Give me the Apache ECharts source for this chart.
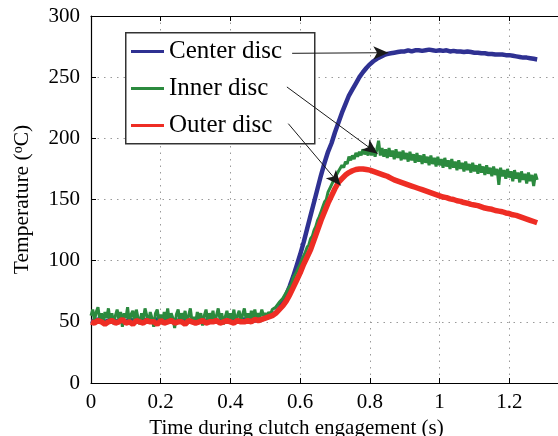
<!DOCTYPE html>
<html>
<head>
<meta charset="utf-8">
<script src="https://cdn.jsdelivr.net/npm/echarts@6/dist/echarts.min.js"></script>
<style>
html,body{margin:0;padding:0;background:#fff;overflow:hidden;}
#chart{width:558px;height:436px;}
</style>
</head>
<body>
<div id="chart"></div>
<script>
// Sample steps (s); every series starts at t = 0
const stepCenterOuter = 0.01;
const stepInner = 0.005;
const seriesNames = ['Center disc', 'Inner disc', 'Outer disc'];
const xTicks = [0, 0.2, 0.4, 0.6, 0.8, 1, 1.2];
const yTicks = [0, 50, 100, 150, 200, 250, 300];

// Center disc temperature (°C), t = 0.00 ... 1.28 (step 0.01)
const centerDisc = [
 51,50,52,51,50,51,52,50,51,51, 50,52,51,50,51,52,51,50,51,52,
 50,51,51,52,50,51,52,51,50,51, 52,51,50,51,52,51,51,50,52,51,
 51,52,50,51,52,51,52,51,52,52,
 53,54,55.5,57.5,61,66,72,79,87,96,
 105,115,126,137,148,159,170,180,189,196,
 205,213,221,228,235,240,245,250,254,257.5,
 260.5,263,265,266.5,268,269,269.5,270,270.5,271,
 271,272,271,272,272,271.5,272,272.5,272,271.5,
 272,271.5,272,271,271.5,271,271,270.5,271,270.5,
 270,270,269.5,269.5,269,269,268.5,268.5,268.5,268,
 268,267.5,267,266.5,266,266,265.5,265,264.5
];

// Inner disc temperature (°C), t = 0.000 ... 1.280 (step 0.005)
const innerDisc = [
 55,60,51,58,62,52,57,49,58,53, 61,50,57,48,55,60,52,58,46,57,
 53,62,50,56,59,49,60,53,48,57, 52,61,55,49,58,53,46,57,60,51,
 56,48,58,52,61,50,57,53,45,56, 60,51,57,52,59,48,55,61,50,54,
 49,58,52,57,47,55,60,51,57,52, 59,49,55,61,52,57,48,54,59,51,
 57,52,60,49,55,59,50,56,61,52, 57,50,59,53,60,52,57,54,60,55,
 57,55,58,56,60,59,62,61,66,65, 69,70,74,75,79,81,86,87,91,94,
 97,101,104,107,111,113,118,120,125,128, 133,136,140,144,148,150,156,157,162,163,
 168,168,173,172,178,176,181,179,185,182, 186,183,188,185,189,186,191,187,190,186,
 194,186,192,185,191,198,186,192,185,191, 184,192,185,190,183,191,184,189,182,190,
 183,188,181,189,182,187,180,188,181,186, 179,187,180,185,178,186,179,184,177,185,
 178,183,176,184,177,182,175,183,176,181, 174,182,175,180,173,181,174,179,172,180,
 173,178,171,179,172,177,170,178,171,176, 169,177,170,175,162,176,169,174,167,175,
 168,173,165,174,167,172,164,173,166,171, 163,172,165,170,161,171,166
];

// Outer disc temperature (°C), t = 0.00 ... 1.28 (step 0.01)
const outerDisc = [
 50,49,51,50,48,50,51,49,50,52, 49,50,48,51,50,49,51,50,50,48,
 51,49,50,51,49,50,50,48,51,50, 49,50,51,49,50,50,51,49,50,51,
 50,49,51,50,50,51,50,52,51,52,
 53,54,55,57,60,63,67,72,78,84,
 90,97,103,109,117,125,133,140,147,153,
 159,164,167,170,172,173.5,174.5,175,175,174.5,
 174,173,172,171,170,169,167.5,166,165,164,
 163,162,161,160,159,158,157,156,155,154,
 153,152,151.5,150.5,150,149,148.5,147.5,147,146,
 145.5,145,144,143,142.5,142,141,140.5,140,139,
 138.5,137.5,137,136,135,134,133,132,131
];

// Annotation arrows: [start point, arrow tip] in data coordinates
const arrowCenter = [[0.577, 269.5], [0.853, 270]];
const arrowInner  = [[0.562, 242], [0.822, 187.5]];
const arrowOuter  = [[0.566, 212], [0.716, 161.5]];

const colors = ['#2f3192', '#2b8a3e', '#ee2d24'];
const serif = '"Liberation Serif", "DejaVu Serif", serif';

function pairs(arr, step) {
  return arr.map((v, i) => [Math.round(i * step * 1000) / 1000, v]);
}
function arrowLine(a) {
  return {
    silent: true,
    symbol: ['none', 'arrow'],
    symbolSize: [10, 15],
    label: {show: false},
    lineStyle: {color: '#1a1a1a', width: 1, type: 'solid'},
    emphasis: {disabled: true},
    animation: false,
    data: [[{coord: a[0]}, {coord: a[1]}]]
  };
}

const chart = echarts.init(document.getElementById('chart'), null, {renderer: 'canvas'});
const gridDots = {show: true, lineStyle: {color: '#9a9a9a', type: [1.5, 5], width: 1}};
const option = {
  animation: false,
  color: colors,
  grid: {left: 91, top: 16, right: -21, bottom: 53, containLabel: false, outerBoundsMode: 'none'},
  graphic: [{
    type: 'rect', left: 125, top: 32, z: 1, silent: true,
    shape: {width: 189, height: 111},
    style: {fill: '#fff', stroke: '#333', lineWidth: 1.5}
  }],
  legend: {
    orient: 'vertical',
    left: 126, top: 33,
    z: 5,
    data: seriesNames,
    icon: 'rect',
    itemWidth: 33, itemHeight: 3,
    itemGap: 12,
    padding: [6, 3, 5, 5],
    borderWidth: 0,
    textStyle: {fontFamily: serif, fontSize: 25, color: '#000'},
    selectedMode: false
  },
  xAxis: [{
    type: 'value', min: 0, max: 1.4, interval: 0.2,
    axisLine: {show: true, onZero: false, lineStyle: {color: '#000', width: 1.2}},
    axisTick: {show: true, inside: true, length: 5, lineStyle: {color: '#000'}},
    axisLabel: {
      fontFamily: serif, fontSize: 21, color: '#000', margin: 9,
      formatter: v => (xTicks.some(t => Math.abs(t - v) < 1e-6) ? String(Math.round(v * 10) / 10) : '')
    },
    splitLine: gridDots,
    name: 'Time during clutch engagement (s)',
    nameLocation: 'middle', nameGap: 33,
    nameTextStyle: {fontFamily: serif, fontSize: 21, color: '#000', padding: [0, 77, 0, 0]}
  }, {
    type: 'value', min: 0, max: 1.4, interval: 0.2, position: 'top',
    axisLine: {show: true, onZero: false, lineStyle: {color: '#000', width: 1.2}},
    axisTick: {show: true, inside: true, length: 5, lineStyle: {color: '#000'}},
    axisLabel: {show: false}, splitLine: {show: false}
  }],
  yAxis: [{
    type: 'value', min: 0, max: 300, interval: 50,
    axisLine: {show: true, lineStyle: {color: '#000', width: 1.2}},
    axisTick: {show: true, inside: true, length: 5, lineStyle: {color: '#000'}},
    axisLabel: {fontFamily: serif, fontSize: 21, color: '#000', margin: 11,
      formatter: v => (yTicks.indexOf(v) >= 0 ? String(v) : '')},
    splitLine: gridDots,
    name: 'Temperature ({sup|o}C)',
    nameLocation: 'middle', nameGap: 58,
    nameTextStyle: {fontFamily: serif, fontSize: 21.5, color: '#000',
      rich: {sup: {fontFamily: serif, fontSize: 14, color: '#000', verticalAlign: 'top', padding: [0, 0, 8, 0]}}}
  }],
  series: [
    {name: seriesNames[0], type: 'line', data: pairs(centerDisc, stepCenterOuter), showSymbol: false, symbol: 'none',
     lineStyle: {width: 4.5, color: colors[0]}, z: 2, markLine: arrowLine(arrowCenter)},
    {name: seriesNames[1], type: 'line', data: pairs(innerDisc, stepInner), showSymbol: false, symbol: 'none',
     lineStyle: {width: 3, color: colors[1]}, z: 3, markLine: arrowLine(arrowInner)},
    {name: seriesNames[2], type: 'line', data: pairs(outerDisc, stepCenterOuter), showSymbol: false, symbol: 'none',
     lineStyle: {width: 5.5, color: colors[2]}, z: 4, markLine: arrowLine(arrowOuter)}
  ]
};
chart.setOption(option);
</script>
</body>
</html>
